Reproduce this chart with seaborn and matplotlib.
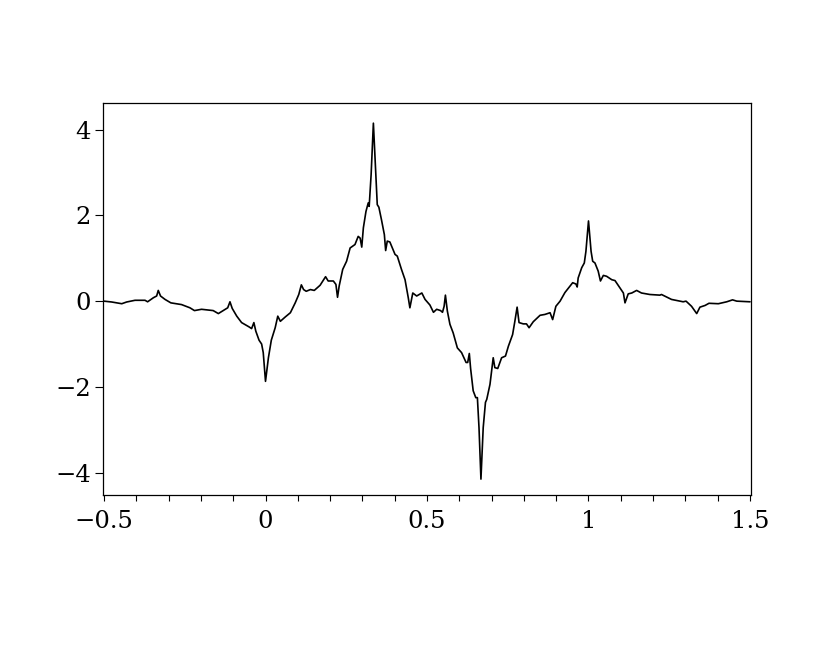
import numpy as np
import pandas as pd
import seaborn as sns
import matplotlib
matplotlib.use('Agg')
import matplotlib.pyplot as plt
from matplotlib.ticker import MultipleLocator

# 曲线数据
x_vals = [-0.500, -0.476, -0.445, -0.430, -0.404, -0.373, -0.365, -0.347, -0.337, -0.332,
          -0.325, -0.311, -0.293, -0.260, -0.234, -0.220, -0.198, -0.162, -0.146, -0.131,
          -0.117, -0.110, -0.103, -0.089, -0.074, -0.051, -0.043, -0.036, -0.030, -0.020,
          -0.012, -0.007, 0.000, 0.009, 0.018, 0.030, 0.038, 0.046, 0.061, 0.077,
          0.092, 0.103, 0.111, 0.118, 0.126, 0.139, 0.151, 0.169, 0.186, 0.194,
          0.210, 0.218, 0.223, 0.228, 0.239, 0.251, 0.262, 0.277, 0.287, 0.293,
          0.298, 0.303, 0.311, 0.318, 0.321, 0.327, 0.334, 0.341, 0.346, 0.351,
          0.359, 0.368, 0.372, 0.377, 0.385, 0.401, 0.408, 0.421, 0.432, 0.442,
          0.447, 0.456, 0.468, 0.484, 0.494, 0.509, 0.520, 0.530, 0.542, 0.548,
          0.553, 0.557, 0.563, 0.571, 0.581, 0.594, 0.607, 0.621, 0.626, 0.631,
          0.635, 0.643, 0.651, 0.656, 0.661, 0.667, 0.674, 0.681, 0.685, 0.695,
          0.705, 0.710, 0.719, 0.731, 0.743, 0.752, 0.765, 0.772, 0.779, 0.785,
          0.798, 0.808, 0.816, 0.829, 0.850, 0.865, 0.881, 0.889, 0.899, 0.912,
          0.927, 0.951, 0.961, 0.965, 0.968, 0.979, 0.987, 0.992, 1.000, 1.008,
          1.013, 1.020, 1.030, 1.037, 1.046, 1.056, 1.072, 1.082, 1.097, 1.108,
          1.113, 1.123, 1.134, 1.149, 1.164, 1.190, 1.221, 1.226, 1.257, 1.293,
          1.302, 1.319, 1.335, 1.345, 1.361, 1.373, 1.402, 1.428, 1.446, 1.459,
          1.500]
y_vals = [0.00, -0.02, -0.06, -0.02, 0.02, 0.02, -0.015, 0.08, 0.12, 0.25,
          0.12, 0.04, -0.04, -0.08, -0.155, -0.22, -0.19, -0.22, -0.29, -0.22,
          -0.155, -0.015, -0.17, -0.35, -0.50, -0.60, -0.64, -0.50, -0.70, -0.91,
          -1.00, -1.20, -1.87, -1.32, -0.91, -0.62, -0.35, -0.47, -0.37, -0.27,
          -0.04, 0.155, 0.38, 0.27, 0.23, 0.27, 0.25, 0.37, 0.57, 0.47,
          0.47, 0.39, 0.09, 0.35, 0.74, 0.93, 1.24, 1.32, 1.51, 1.47,
          1.26, 1.71, 2.09, 2.29, 2.21, 2.95, 4.15, 3.02, 2.25, 2.19,
          1.90, 1.55, 1.18, 1.40, 1.38, 1.09, 1.05, 0.74, 0.50, 0.08,
          -0.155, 0.19, 0.12, 0.19, 0.04, -0.09, -0.26, -0.19, -0.22, -0.26,
          -0.12, 0.14, -0.23, -0.54, -0.74, -1.09, -1.20, -1.43, -1.43, -1.22,
          -1.57, -2.09, -2.25, -2.25, -2.95, -4.15, -2.95, -2.36, -2.29, -1.94,
          -1.32, -1.55, -1.57, -1.32, -1.28, -1.05, -0.78, -0.47, -0.14, -0.50,
          -0.53, -0.53, -0.62, -0.48, -0.33, -0.31, -0.27, -0.43, -0.12, 0.00,
          0.20, 0.43, 0.40, 0.33, 0.54, 0.78, 0.89, 1.16, 1.87, 1.16,
          0.93, 0.89, 0.70, 0.47, 0.60, 0.58, 0.50, 0.48, 0.31, 0.19,
          -0.04, 0.17, 0.19, 0.25, 0.19, 0.155, 0.14, 0.155, 0.04, -0.015,
          0.00, -0.12, -0.29, -0.14, -0.10, -0.05, -0.06, -0.015, 0.03, 0.00,
          -0.015]

x_ticks = [-0.5, 0, 0.5, 1, 1.5]
x_tick_labels = ['\u22120.5', '0', '0.5', '1', '1.5']
y_ticks = [-4, -2, 0, 2, 4]
y_tick_labels = ['\u22124', '\u22122', '0', '2', '4']

df = pd.DataFrame({'x': x_vals, 'y': y_vals})

sns.set_theme(style='white')
plt.rcParams['font.family'] = ['DejaVu Serif', 'Liberation Serif']

fig = plt.figure(figsize=(8.3, 6.64), dpi=100)
ax = fig.add_axes([103 / 830, 1 - 495 / 664, 648 / 830, 392 / 664])

sns.lineplot(data=df, x='x', y='y', ax=ax, color='black', linewidth=1.2,
             estimator=None, sort=False)

ax.set_xlim(-0.5031, 1.5031)
ax.set_ylim(-4.52, 4.62)
ax.set_xticks(x_ticks)
ax.set_xticklabels(x_tick_labels)
ax.set_yticks(y_ticks)
ax.set_yticklabels(y_tick_labels)
ax.xaxis.set_minor_locator(MultipleLocator(0.1))
ax.tick_params(axis='y', which='major', direction='out', length=5.5, width=0.8,
               color='black', labelcolor='black', labelsize=17.5, pad=3, left=True)
ax.tick_params(axis='x', which='major', direction='out', length=4, width=0.8,
               color='black', labelcolor='black', labelsize=17.5, pad=7, bottom=True)
ax.tick_params(axis='x', which='minor', direction='out', length=4, width=0.8,
               color='black', bottom=True)
ax.set_xlabel('')
ax.set_ylabel('')
for sp in ax.spines.values():
    sp.set_color('black')
    sp.set_linewidth(0.9)

fig.savefig('out.png', dpi=100)
